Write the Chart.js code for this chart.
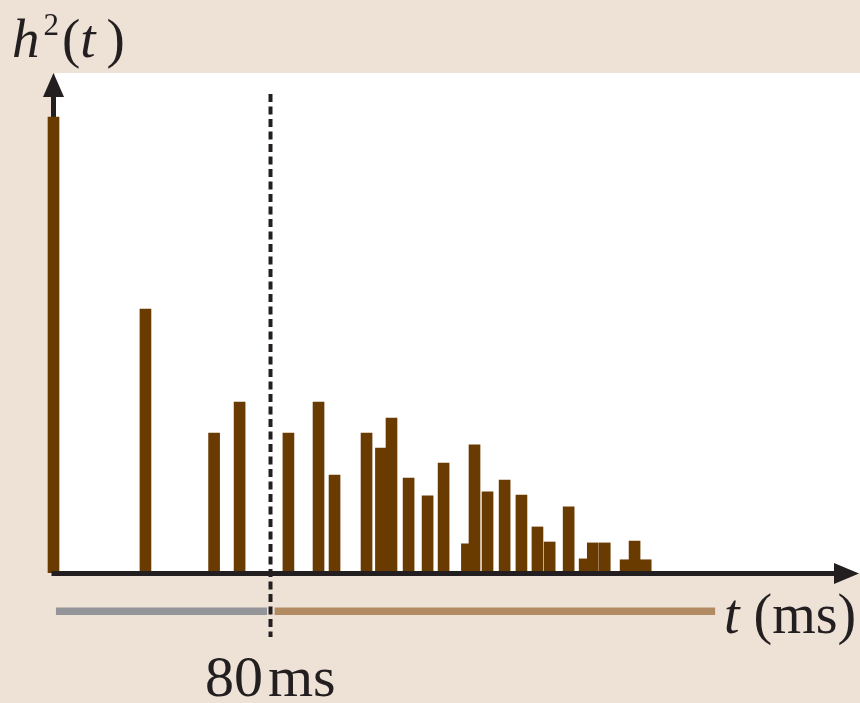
<!DOCTYPE html>
<html>
<head>
<meta charset="utf-8">
<script src="https://cdn.jsdelivr.net/npm/chart.js@4"></script>
<style>
  body { margin: 0; background: #EEE2D7; }
  #wrap { position: relative; width: 860px; height: 703px; }
  .lbl { position: absolute; font-family: "Liberation Serif", "DejaVu Serif", serif; color: #231F20; line-height: 1; white-space: nowrap; }
  .sup { position: relative; font-size: 31px; top: -22px; margin: 0 3px 0 4px; }
</style>
</head>
<body>
<div id="wrap">
  <canvas id="rir" width="860" height="703"></canvas>
  <span class="lbl" style="left:12px; top:11px; font-size:55px;"><i>h</i><span class="sup">2</span>(<i>t</i>&thinsp;)</span>
  <span class="lbl" style="left:724px; top:586px; font-size:56px;"><i>t</i> (ms)</span>
  <span class="lbl" style="left:205px; top:648px; font-size:58px;">80<span style="margin-left:5px">ms</span></span>
</div>
<script>
// reflection arrival times (ms) and relative energy (direct sound = 100)
const times = [0, 33.9, 59.2, 68.6, 86.6, 97.7, 103.6, 115.4, 120.7, 124.6, 130.9, 137.9, 143.8,
  152.4, 155.2, 160.0, 166.3, 172.5, 178.4, 182.9, 189.9, 195.8, 198.8, 203.2, 210.9, 214.2, 218.3];
const energy = [100, 57.9, 30.7, 37.5, 30.7, 37.5, 21.5, 30.7, 27.4, 34.0, 20.8, 16.9, 24.1,
  6.4, 28.1, 17.8, 20.4, 17.1, 10.1, 6.8, 14.5, 3.1, 6.6, 6.6, 2.9, 7.0, 2.9];
const splitTime = 80;            // early / late boundary
const earlyRange = [0.9, 78.7];
const lateRange = [81.5, 243.9];

const ink = '#231F20';

const decor = {
  id: 'decor',
  beforeDraw(chart) {
    const { ctx, chartArea, scales: { x, y } } = chart;
    ctx.save();
    ctx.fillStyle = '#FFFFFF';
    const left = x.getPixelForValue(0) + 1.5;
    ctx.fillRect(left, 73, chartArea.right - left, y.getPixelForValue(0) - 73);
    ctx.restore();
  },
  beforeDatasetsDraw(chart) {
    const { ctx, scales: { x, y } } = chart;
    const x0 = x.getPixelForValue(0);
    const y0 = y.getPixelForValue(0);
    ctx.save();
    ctx.fillStyle = ink;
    ctx.fillRect(x0 - 2.5, 95, 5, y0 - 95);
    ctx.beginPath();
    ctx.moveTo(x0, 73);
    ctx.lineTo(x0 - 10.5, 97);
    ctx.lineTo(x0 + 10.5, 97);
    ctx.closePath();
    ctx.fill();
    ctx.restore();
  },
  afterDatasetsDraw(chart) {
    const { ctx, scales: { x, y } } = chart;
    const x0 = x.getPixelForValue(0);
    const y0 = y.getPixelForValue(0);
    ctx.save();
    // x axis with arrow
    ctx.fillStyle = ink;
    ctx.fillRect(x0 - 2, y0 - 2, 836 - (x0 - 2), 5);
    ctx.beginPath();
    ctx.moveTo(859, y0 + 0.5);
    ctx.lineTo(834, y0 - 10);
    ctx.lineTo(834, y0 + 11);
    ctx.closePath();
    ctx.fill();
    // early / late ranges
    ctx.fillStyle = '#939598';
    ctx.fillRect(x.getPixelForValue(earlyRange[0]), 607.5, x.getPixelForValue(earlyRange[1]) - x.getPixelForValue(earlyRange[0]), 7.5);
    ctx.fillStyle = '#B38B63';
    ctx.fillRect(x.getPixelForValue(lateRange[0]), 607.5, x.getPixelForValue(lateRange[1]) - x.getPixelForValue(lateRange[0]), 7.5);
    // 80 ms divider
    const xs = x.getPixelForValue(splitTime);
    ctx.strokeStyle = ink;
    ctx.lineWidth = 4;
    ctx.setLineDash([8, 4.5]);
    ctx.beginPath();
    ctx.moveTo(xs, 94);
    ctx.lineTo(xs, 637);
    ctx.stroke();
    ctx.restore();
  }
};

new Chart(document.getElementById('rir'), {
  type: 'bar',
  data: {
    datasets: [{
      data: times.map((t, i) => ({ x: t, y: energy[i] })),
      backgroundColor: '#6A3B00',
      borderWidth: 0,
      barThickness: 11
    }]
  },
  options: {
    responsive: false,
    animation: false,
    devicePixelRatio: 1,
    layout: { padding: { left: 0, right: 0, top: 0, bottom: 130 } },
    plugins: { legend: { display: false }, tooltip: { enabled: false } },
    scales: {
      x: { type: 'linear', offset: false, min: -19.72, max: 297.3, display: false },
      y: { min: 0, max: 125.66, display: false }
    }
  },
  plugins: [decor]
});
</script>
</body>
</html>
